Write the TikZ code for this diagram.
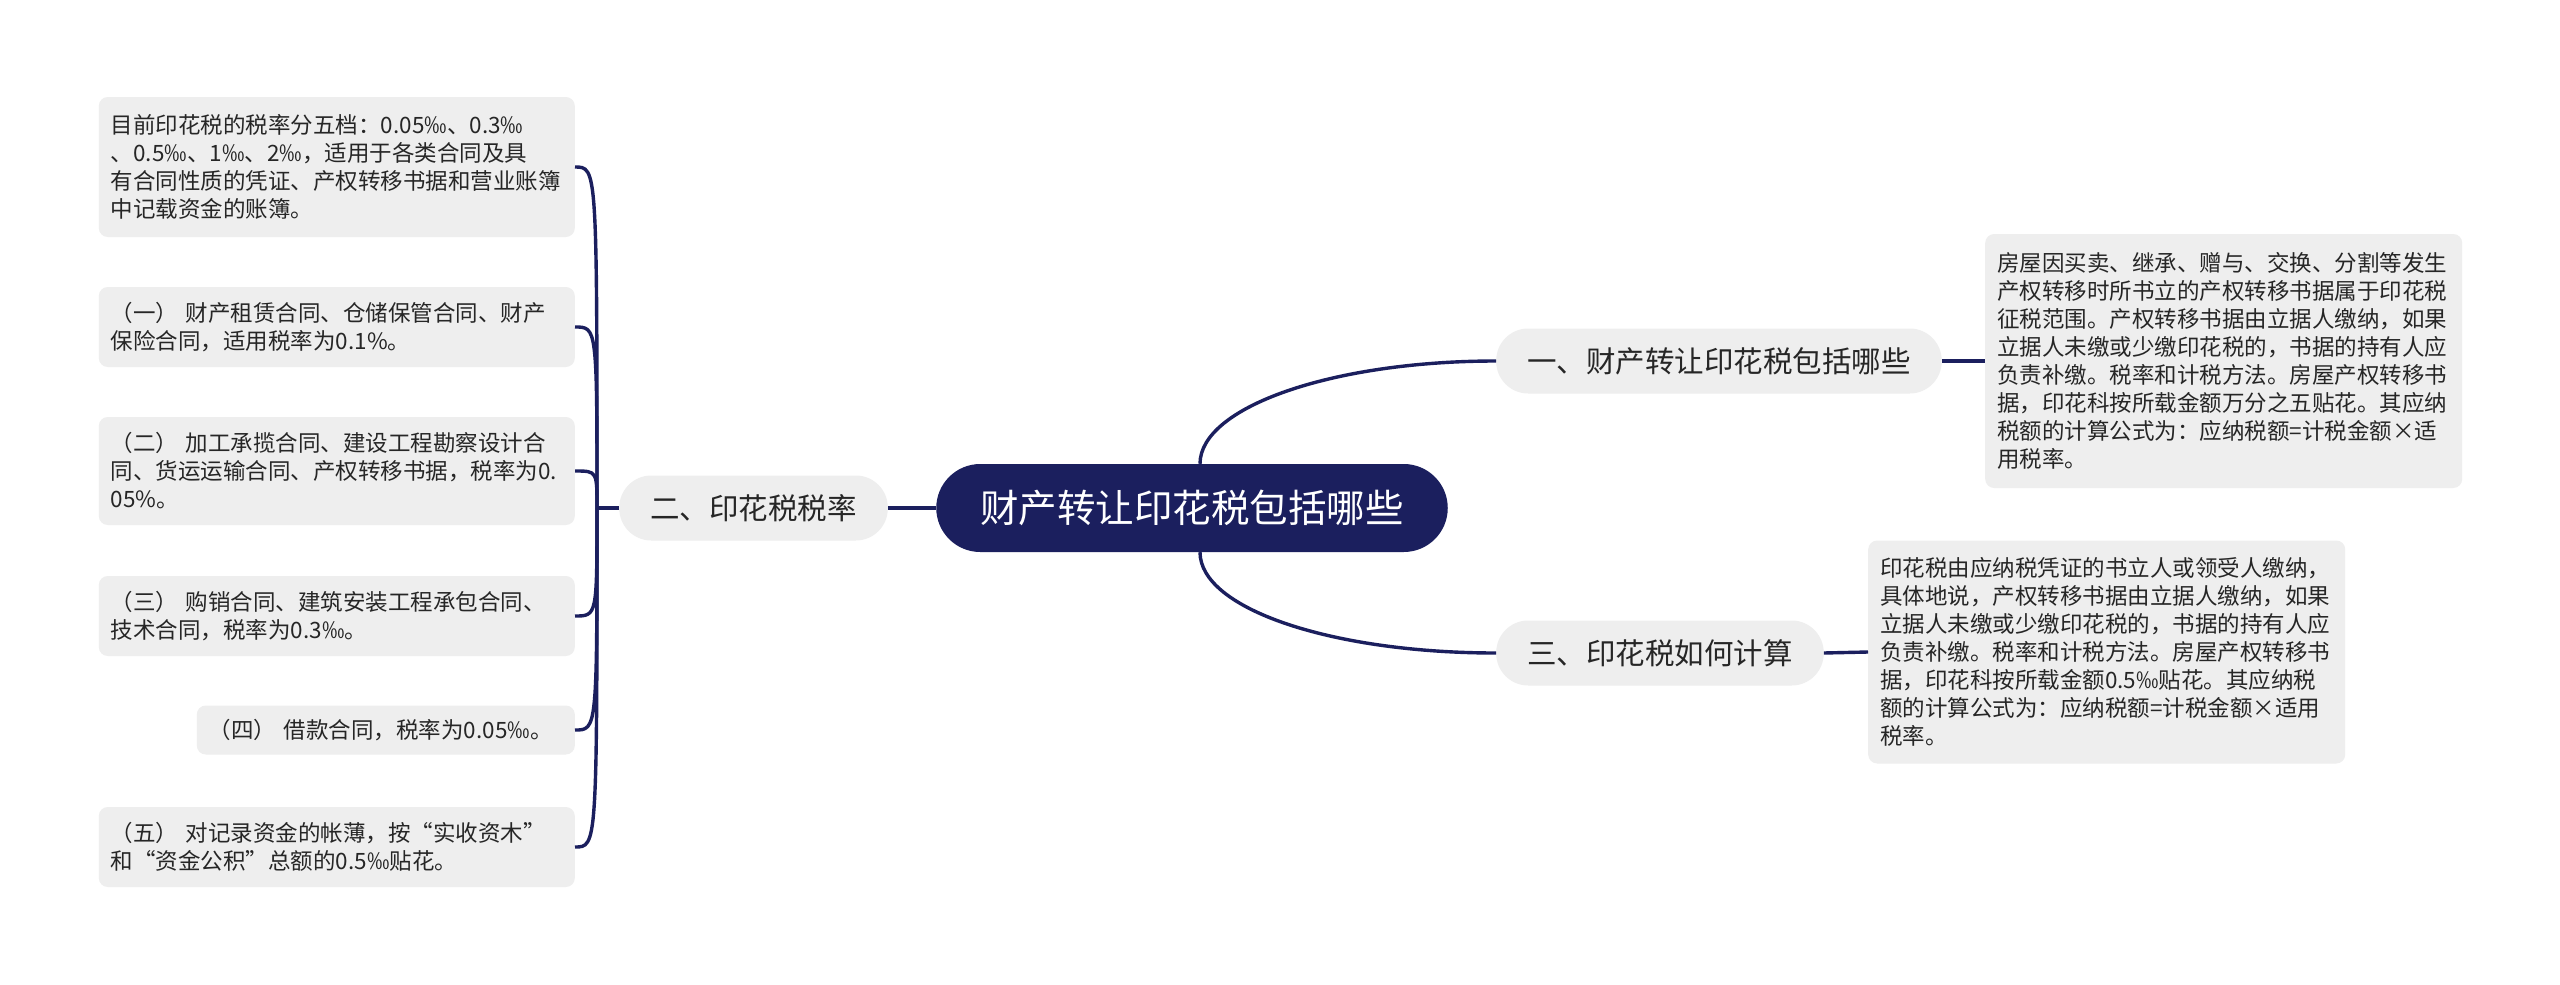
\documentclass[tikz,border=0pt]{standalone}
\usepackage{fontspec}
\newfontfamily\cjk{Noto Sans CJK SC}
\definecolor{navy}{HTML}{1B1F5E}
\definecolor{boxgray}{HTML}{EEEEEE}
\definecolor{txt}{HTML}{262626}
\begin{document}
\begin{tikzpicture}[x=1pt,y=-1pt,
  link/.style={draw=navy, line width=3.4pt},
  leaf/.style={fill=boxgray, rounded corners=9pt, text=txt, align=left, inner xsep=12pt, inner ysep=0pt, font=\cjk\fontsize{22.5}{28}\selectfont},
  topic/.style={fill=boxgray, rounded corners=32pt, text=txt, minimum height=65pt, inner xsep=31pt, inner ysep=0pt, font=\cjk\fontsize{29.5}{35}\selectfont},
  root/.style={fill=navy, rounded corners=44pt, text=white, minimum height=88pt, inner xsep=44pt, inner ysep=0pt, font=\cjk\fontsize{38.5}{46}\selectfont}
]
\useasboundingbox (0,0) rectangle (2560,985);
\fill[white] (0,0) rectangle (2560,985);

\node[root] (c) at (1192,508) {财产转让印花税包括哪些};
\node[topic, anchor=east] (t2) at (888,508) {二、印花税税率};
\node[topic, anchor=west] (t1) at (1496,361) {一、财产转让印花税包括哪些};
\node[topic, anchor=west] (t3) at (1496,653) {三、印花税如何计算};

\node[leaf, anchor=east, text width=452pt, minimum height=140pt] (l1) at (575,167)
  {目前印花税的税率分五档：0.05‰、0.3‰\\、0.5‰、1‰、2‰，适用于各类合同及具\\有合同性质的凭证、产权转移书据和营业账簿\\中记载资金的账簿。};
\node[leaf, anchor=east, text width=452pt, minimum height=80pt] (l2) at (575,327)
  {（一） 财产租赁合同、仓储保管合同、财产\\保险合同，适用税率为0.1\%。};
\node[leaf, anchor=east, text width=452pt, minimum height=108pt] (l3) at (575,471)
  {（二） 加工承揽合同、建设工程勘察设计合\\同、货运运输合同、产权转移书据，税率为0.\\05\%。};
\node[leaf, anchor=east, text width=452pt, minimum height=80pt] (l4) at (575,616)
  {（三） 购销合同、建筑安装工程承包合同、\\技术合同，税率为0.3‰。};
\node[leaf, anchor=east, text width=354pt, minimum height=49pt] (l5) at (575,730)
  {（四） 借款合同，税率为0.05‰。};
\node[leaf, anchor=east, text width=452pt, minimum height=80pt] (l6) at (575,847)
  {（五） 对记录资金的帐薄，按“实收资木”\\和“资金公积”总额的0.5‰贴花。};

\node[leaf, anchor=west, text width=453pt, minimum height=254pt] (r1) at (1985,361)
  {房屋因买卖、继承、赠与、交换、分割等发生\\产权转移时所书立的产权转移书据属于印花税\\征税范围。产权转移书据由立据人缴纳，如果\\立据人未缴或少缴印花税的，书据的持有人应\\负责补缴。税率和计税方法。房屋产权转移书\\据，印花科按所载金额万分之五贴花。其应纳\\税额的计算公式为：应纳税额=计税金额×适\\用税率。};
\node[leaf, anchor=west, text width=453pt, minimum height=223pt] (r2) at (1868,652)
  {印花税由应纳税凭证的书立人或领受人缴纳，\\具体地说，产权转移书据由立据人缴纳，如果\\立据人未缴或少缴印花税的，书据的持有人应\\负责补缴。税率和计税方法。房屋产权转移书\\据，印花科按所载金额0.5‰贴花。其应纳税\\额的计算公式为：应纳税额=计税金额×适用\\税率。};

\coordinate (sp) at (597,508);
\draw[link] (c.west) -- (t2.east);
\draw[link] (t2.west) -- (sp);
\foreach \n in {l1,l2,l3,l4,l5,l6}
  \draw[link] (sp) .. controls (sp |- \n.east) and (sp |- \n.east) .. (\n.east);

\draw[link] ([xshift=8pt]c.north) .. controls +(0,-57) and +(-163,0) .. (t1.west);
\draw[link] ([xshift=8pt]c.south) .. controls +(0,57) and +(-163,0) .. (t3.west);
\draw[link] (t1.east) -- (r1.west);
\draw[link] (t3.east) -- (r2.west);
\end{tikzpicture}
\end{document}
